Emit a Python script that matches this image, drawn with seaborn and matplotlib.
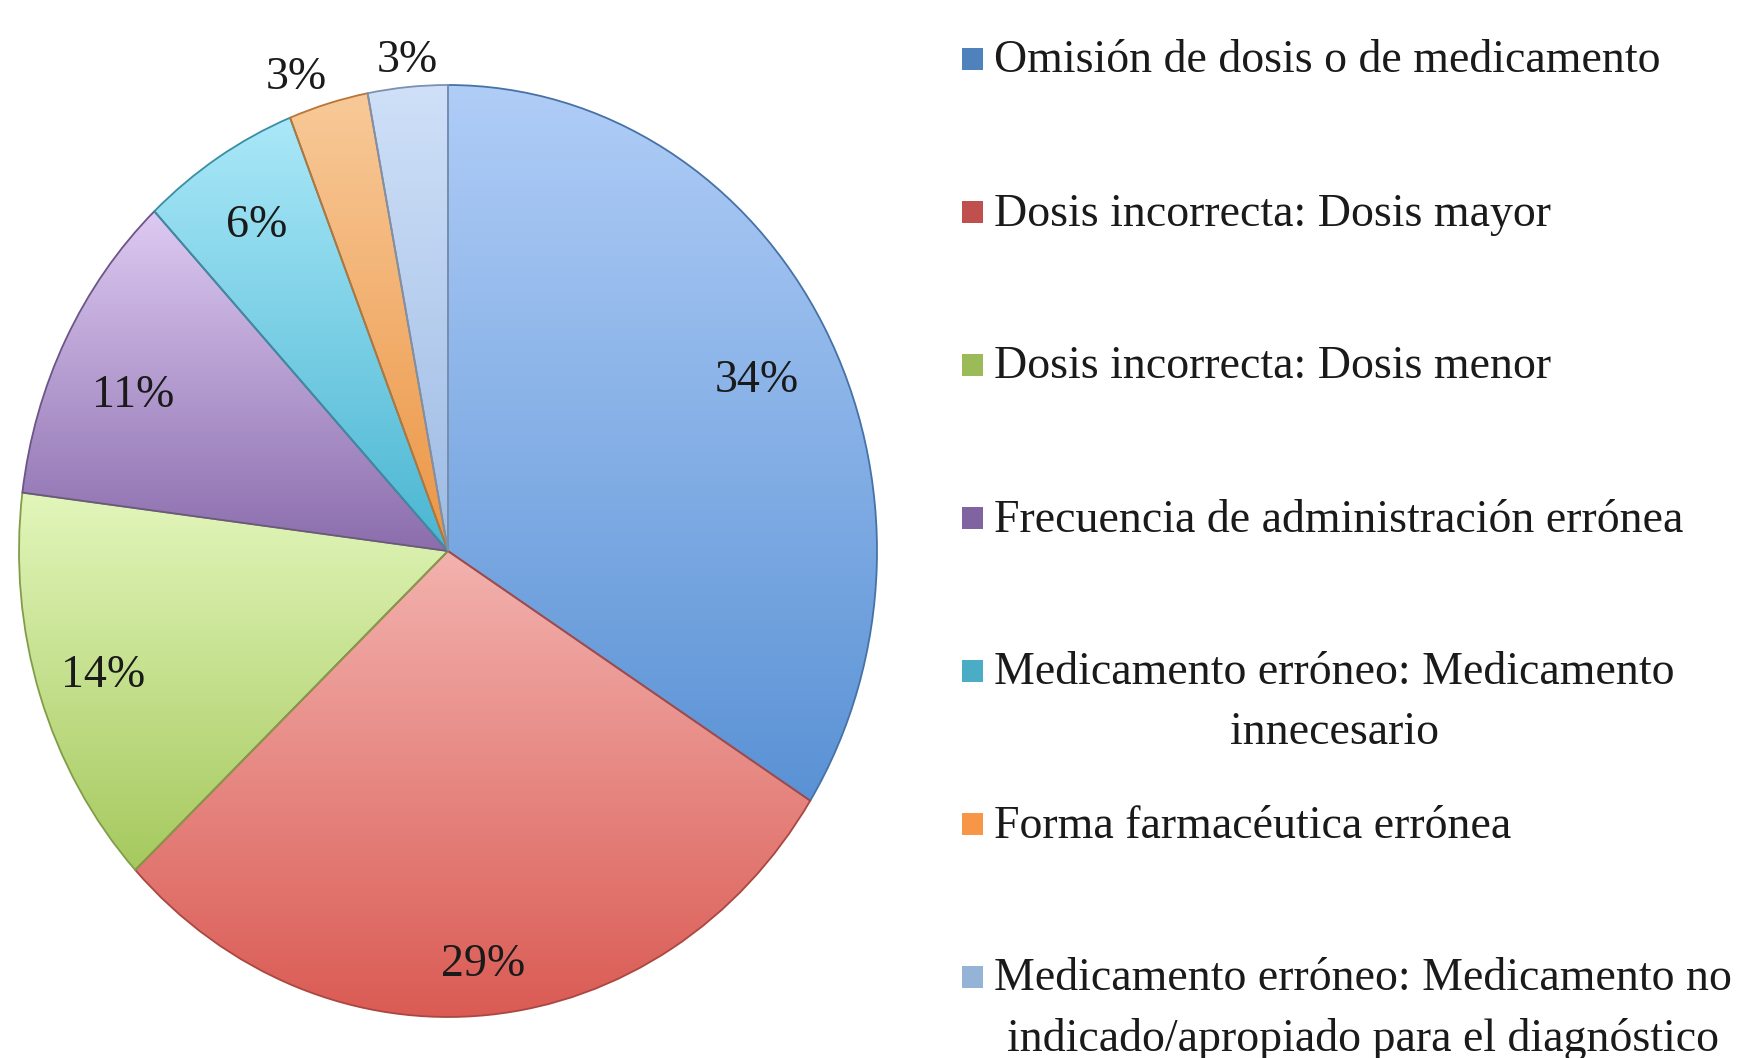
import numpy as np
import matplotlib
matplotlib.use('Agg')
import matplotlib.pyplot as plt
import seaborn as sns
from matplotlib.colors import LinearSegmentedColormap, to_rgb
from matplotlib.patches import Rectangle

# slice data (clockwise from the top)
categories = [
    'Omisión de dosis o de medicamento',
    'Dosis incorrecta: Dosis mayor',
    'Dosis incorrecta: Dosis menor',
    'Frecuencia de administración errónea',
    'Medicamento erróneo: Medicamento\ninnecesario',
    'Forma farmacéutica errónea',
    'Medicamento erróneo: Medicamento no\nindicado/apropiado para el diagnóstico',
]
percentages = [34, 29, 14, 11, 6, 3, 3]

# light (top) / dark (bottom) shade of each slice, legend swatch colour
light_colors = ['#b0cdf7', '#f3b2ae', '#e2f6bb', '#ddcaf2', '#aae8f8', '#f8c998', '#cfe0f8']
dark_colors = ['#5a92d5', '#da5b54', '#a6c95e', '#8b6dad', '#4ab6d2', '#ec9645', '#9dbbe4']
legend_colors = ['#4f81bd', '#c0504d', '#9bbb59', '#8064a2', '#4bacc6', '#f79646', '#95b3d7']

# label placement: radial distance + small nudge in pixels (dx, dy down)
label_dist = [0.81, 0.88, 0.845, 0.815, 0.84, 1.08, 1.06]
label_nudge = [(4, 12), (0, 5), (0, 3), (-3, 17), (2, 5), (-22, 10), (2, 2)]

sns.set_theme(style='white')
plt.rcParams['font.family'] = ['Liberation Serif', 'DejaVu Serif']

W, H = 1757, 1058
fig = plt.figure(figsize=(W / 100, H / 100), dpi=100)
fig.patch.set_facecolor('white')

# pie axes: ellipse centred at (448, 551) px, rx 429, ry 466
cx, cy, rx, ry = 448, 551, 429, 466
ax = fig.add_axes([(cx - rx) / W, (H - cy - ry) / H, 2 * rx / W, 2 * ry / H])

wedges, _ = ax.pie(percentages, startangle=90, counterclock=False,
                   colors=dark_colors, wedgeprops=dict(linewidth=1.3))

# vertical gradient inside every slice
grad = np.linspace(0, 1, 256).reshape(-1, 1)
for w, lc, dc in zip(wedges, light_colors, dark_colors):
    ext = w.get_path().get_extents()
    cmap = LinearSegmentedColormap.from_list('g', [dc, lc])
    im = ax.imshow(grad, cmap=cmap, origin='lower', aspect='auto',
                   extent=[ext.x0, ext.x1, ext.y0, ext.y1], zorder=1)
    im.set_clip_path(w)
    w.set_facecolor('none')
    w.set_edgecolor(tuple(np.array(to_rgb(dc)) * 0.78))
    w.set_zorder(2)

# percentage labels
for w, p, d, (dx, dy) in zip(wedges, percentages, label_dist, label_nudge):
    mid = np.deg2rad((w.theta1 + w.theta2) / 2)
    x = d * np.cos(mid) + dx / rx
    y = d * np.sin(mid) - dy / ry
    ax.text(x, y, f'{p}%', ha='center', va='center',
            fontsize=33, color='#1a1a1a', zorder=5, clip_on=False)

ax.set_xlim(-1, 1)
ax.set_ylim(-1, 1)
ax.set_aspect('auto')
ax.axis('off')

# legend, drawn by hand: first lines spaced evenly
y0, step = 58, 153
for i, (lab, col) in enumerate(zip(categories, legend_colors)):
    yc = y0 + step * i
    fig.patches.append(Rectangle((962 / W, (H - yc - 12) / H), 21 / W, 22 / H,
                                 transform=fig.transFigure, facecolor=col,
                                 edgecolor='none'))
    fig.text(994 / W, (H - yc + 18) / H, lab, ha='left', va='top',
             multialignment='center', fontsize=33, color='#1a1a1a',
             linespacing=1.52)

fig.savefig('out.png', dpi=100, facecolor='white')
